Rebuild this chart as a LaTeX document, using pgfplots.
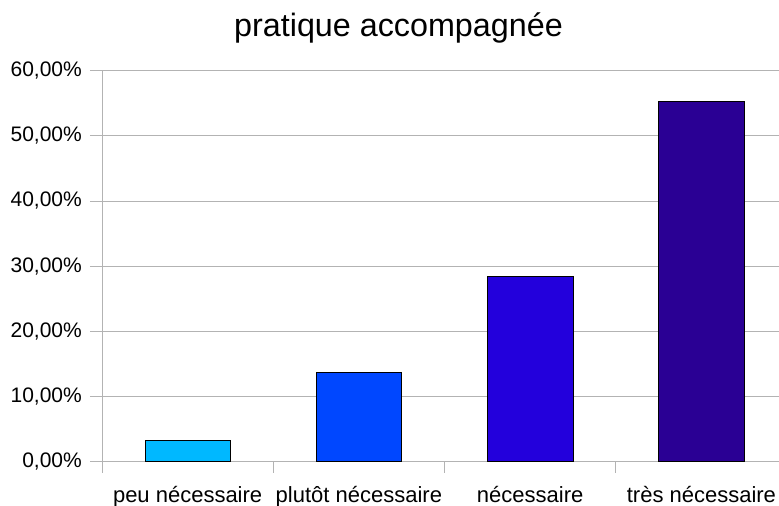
\documentclass[border=0pt]{standalone}
\usepackage{pgfplots}
\pgfplotsset{compat=1.18}
\usepackage{fontspec}
\setmainfont{Liberation Sans}
\definecolor{c1}{HTML}{00B8FF}
\definecolor{c2}{HTML}{0047FF}
\definecolor{c3}{HTML}{2300DC}
\definecolor{c4}{HTML}{2A0094}
\definecolor{gridgray}{HTML}{B3B3B3}
\begin{document}
\begin{tikzpicture}
\path[use as bounding box] (0,0) rectangle (779bp,506bp);
\node[anchor=base] at (398.5bp,469bp) {\fontsize{32.3bp}{38bp}\selectfont pratique accompagnée};
\begin{axis}[
  at={(102bp,44.3bp)}, anchor=south west,
  scale only axis, width=677bp, height=391.2bp,
  xmin=-0.5, xmax=3.453, ymin=0, ymax=60,
  axis lines*=left,
  axis line style={gridgray, line width=0.8bp},
  ymajorgrids, grid style={gridgray, line width=0.8bp},
  ytick={0,10,20,30,40,50,60},
  yticklabels={{0,00\%},{10,00\%},{20,00\%},{30,00\%},{40,00\%},{50,00\%},{60,00\%}},
  xtick={0,1,2,3},
  xticklabels={peu nécessaire, plutôt nécessaire, nécessaire, très nécessaire},
  minor xtick={-0.5,0.5,1.5,2.5},
  major tick length=12bp,
  minor tick length=11bp,
  tick align=outside,
  tick style={gridgray, line width=0.8bp},
  major x tick style={draw=none},
  yticklabel style={font=\fontsize{21bp}{24bp}\selectfont, anchor=east, inner sep=0pt, xshift=-8bp},
  xticklabel style={font=\fontsize{22bp}{26bp}\selectfont, anchor=base, inner sep=0pt, yshift=-28.5bp},
  /pgf/number format/assume math mode=true,
  ybar, bar width=85.5bp, bar shift=0pt,
  clip=false,
]
\addplot[fill=c1, draw=black, line width=0.6bp] coordinates {(0,3.3)};
\addplot[fill=c2, draw=black, line width=0.6bp] coordinates {(1,13.7)};
\addplot[fill=c3, draw=black, line width=0.6bp] coordinates {(2,28.5)};
\addplot[fill=c4, draw=black, line width=0.6bp] coordinates {(3,55.2)};
\end{axis}
\end{tikzpicture}
\end{document}
